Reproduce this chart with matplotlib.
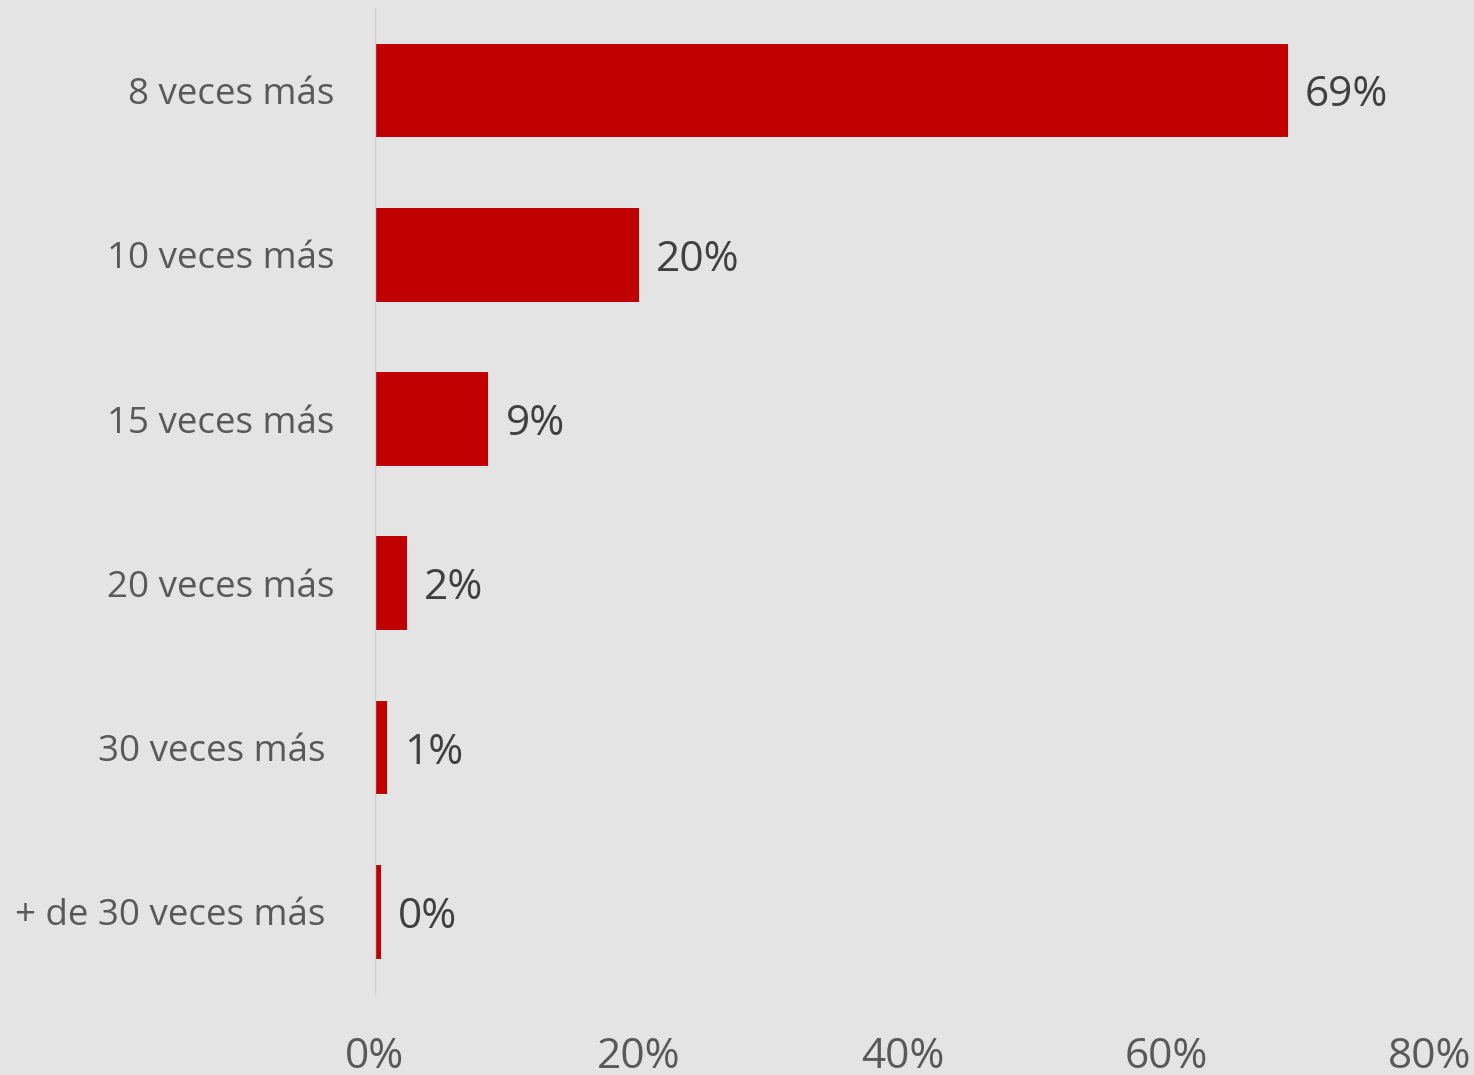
import matplotlib
matplotlib.use("Agg")
import matplotlib.pyplot as plt
from matplotlib.ticker import PercentFormatter

categories = ["8 veces más", "10 veces más", "15 veces más", "20 veces más",
              "30 veces más ", "+ de 30 veces más "]
values = [69.2, 20.0, 8.6, 2.4, 0.9, 0.45]
value_labels = ["69%", "20%", "9%", "2%", "1%", "0%"]
ticks = [0, 20, 40, 60, 80]

plt.rcParams['font.family'] = ['Open Sans', 'DejaVu Sans']
bg = '#e4e4e4'

fig = plt.figure(figsize=(14.74, 10.75), dpi=100, facecolor=bg)
ax = fig.add_axes([0.2544, 0.0753, 0.7158, 0.917])
ax.set_facecolor(bg)

y = list(range(len(categories)))
ax.barh(y, values, height=0.57, color='#c00000')
ax.set_xlim(0, 80)
ax.set_ylim(5.5, -0.5)

for yi, v, lab in zip(y, values, value_labels):
    ax.text(v + 1.3, yi, lab, va='center_baseline', ha='left', fontsize=30.5, color='#404040')

ax.set_yticks(y)
ax.set_yticklabels(categories, fontsize=26.5, color='#595959')
ax.set_xticks(ticks)
ax.xaxis.set_major_formatter(PercentFormatter(decimals=0))
ax.tick_params(axis='x', labelsize=30.5, labelcolor='#595959', length=0, pad=30)
ax.tick_params(axis='y', length=0, pad=29)

for s in ['top', 'right', 'bottom']:
    ax.spines[s].set_visible(False)
ax.spines['left'].set_color('#d0d0d0')
ax.spines['left'].set_linewidth(1)

fig.savefig("out.png", dpi=100, facecolor=bg)
